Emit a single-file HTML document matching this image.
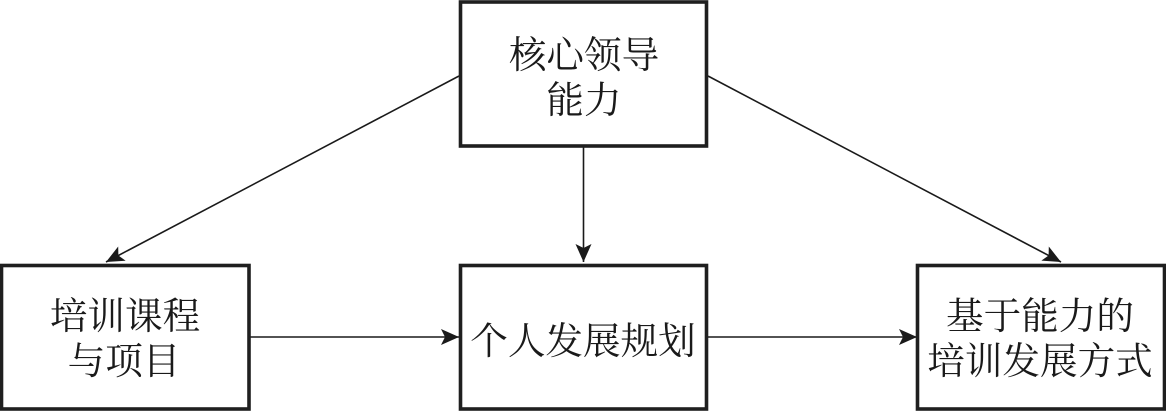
<!DOCTYPE html>
<html lang="zh">
<head>
<meta charset="utf-8">
<style>
html,body{margin:0;padding:0;background:#fff;width:1166px;height:411px;overflow:hidden}
svg{display:block}
text{font-family:"Liberation Serif","Noto Serif CJK SC",serif;font-size:37.6px;fill:#1a1a1a;text-anchor:middle}
</style>
</head>
<body>
<svg width="1166" height="411" viewBox="0 0 1166 411" xmlns="http://www.w3.org/2000/svg">
<defs>
<marker id="a" markerUnits="userSpaceOnUse" markerWidth="20" markerHeight="18" refX="18" refY="8" orient="auto">
<path d="M0 0 L18 8 L0 16 L4 8 Z" fill="#1a1a1a"/>
</marker>
</defs>
<g stroke="#1a1a1a" stroke-width="1.6" fill="none">
<line x1="459" y1="76" x2="106" y2="262" marker-end="url(#a)"/>
<line x1="708" y1="76" x2="1061" y2="262" marker-end="url(#a)"/>
<line x1="583.5" y1="144" x2="583.5" y2="262" marker-end="url(#a)"/>
<line x1="250" y1="337" x2="459" y2="337" marker-end="url(#a)"/>
<line x1="708" y1="337" x2="917" y2="337" marker-end="url(#a)"/>
</g>
<g stroke="#1f1f1f" stroke-width="3.6" fill="#fff">
<rect x="460.5" y="2" width="246" height="144"/>
<rect x="1.5" y="265.5" width="247.5" height="143.5"/>
<rect x="460.5" y="265.5" width="246" height="143.5"/>
<rect x="917.5" y="265.5" width="247" height="143.5"/>
</g>
<text x="584" y="68">核心领导</text>
<text x="584" y="113">能力</text>
<text x="125" y="329">培训课程</text>
<text x="124" y="374">与项目</text>
<text x="583" y="354">个人发展规划</text>
<text x="1040" y="329">基于能力的</text>
<text x="1040" y="374">培训发展方式</text>
</svg>
</body>
</html>
